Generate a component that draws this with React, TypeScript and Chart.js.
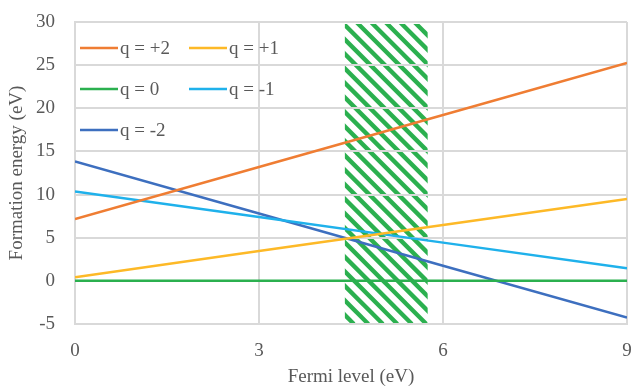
import React, { useEffect, useRef } from "react";
import { Chart, registerables } from "chart.js";

Chart.register(...registerables);

// ---- data ----
const fermiLevels = [0, 3, 6, 9];
const seriesLabels = ["q = +2", "q = +1", "q = 0", "q = -1", "q = -2"];
const qPlus2 = [7.16, 13.2, 19.22, 25.25];
const qPlus1 = [0.43, 3.45, 6.47, 9.48];
const qZero = [0, 0, 0, 0];
const qMinus1 = [10.36, 7.4, 4.43, 1.47];
const qMinus2 = [13.84, 7.8, 1.75, -4.26];
const seriesValues = [qPlus2, qPlus1, qZero, qMinus1, qMinus2];
const seriesColors = ["#EF7D33", "#FDB927", "#2BB04F", "#1FB1EB", "#3D6FBF"];
const hatchRange = [4.4, 5.75];
const xAxisRange = [0, 9, 3];
const yAxisRange = [-5, 30, 5];
const xTitle = "Fermi level (eV)";
const yTitle = "Formation energy (eV)";

const FONT = "'Liberation Serif', 'Times New Roman', serif";
const TEXT = "#595959";
const GRID = "#D9D9D9";
const FS = 19;

const hatchPlugin = {
  id: "hatch",
  beforeDraw(chart: any) {
    const { ctx, chartArea, scales } = chart;
    const x0 = scales.x.getPixelForValue(hatchRange[0]);
    const x1 = scales.x.getPixelForValue(hatchRange[1]);
    const top = chartArea.top;
    const bottom = chartArea.bottom;
    ctx.save();
    ctx.beginPath();
    ctx.rect(x0, top + 2, x1 - x0, bottom - top - 2);
    ctx.clip();
    ctx.strokeStyle = "#2BB04F";
    ctx.lineWidth = 4.3;
    const h = bottom - top;
    for (let s = x0 - h - 20; s < x1 + 20; s += 14.5) {
      ctx.beginPath();
      ctx.moveTo(s, top);
      ctx.lineTo(s + h, bottom);
      ctx.stroke();
    }
    ctx.restore();
  },
};

const legendPlugin = {
  id: "innerLegend",
  afterDatasetsDraw(chart: any) {
    const { ctx, chartArea } = chart;
    const cols = [chartArea.left + 5, chartArea.left + 114];
    const rows = [chartArea.top + 26, chartArea.top + 67, chartArea.top + 108];
    ctx.save();
    ctx.font = `${FS}px ${FONT}`;
    ctx.textBaseline = "middle";
    ctx.textAlign = "left";
    seriesLabels.forEach((label, i) => {
      const cx = cols[i % 2];
      const cy = rows[Math.floor(i / 2)];
      ctx.strokeStyle = seriesColors[i];
      ctx.lineWidth = 2.5;
      ctx.beginPath();
      ctx.moveTo(cx, cy);
      ctx.lineTo(cx + 38, cy);
      ctx.stroke();
      ctx.fillStyle = TEXT;
      ctx.fillText(label, cx + 40, cy + 1);
    });
    ctx.restore();
  },
};

export default function App() {
  const ref = useRef<HTMLCanvasElement | null>(null);

  useEffect(() => {
    document.body.style.margin = "0";
    const canvas = ref.current!;
    const chart = new Chart(canvas, {
      type: "line",
      data: {
        datasets: seriesLabels.map((label, i) => ({
          label,
          data: fermiLevels.map((x, j) => ({ x, y: seriesValues[i][j] })),
          borderColor: seriesColors[i],
          backgroundColor: seriesColors[i],
          borderWidth: 2.5,
          pointRadius: 0,
          tension: 0,
          fill: false,
        })),
      },
      options: {
        responsive: false,
        animation: false,
        layout: { padding: { left: 0, right: 4, top: 22, bottom: 0 } },
        plugins: {
          legend: { display: false },
          tooltip: { enabled: false },
        },
        scales: {
          x: {
            type: "linear",
            min: xAxisRange[0],
            max: xAxisRange[1],
            ticks: {
              stepSize: xAxisRange[2],
              color: TEXT,
              font: { family: FONT, size: FS },
              padding: 16,
            },
            grid: { color: GRID, lineWidth: 2, drawTicks: false },
            border: { color: GRID, width: 2 },
            title: {
              display: true,
              text: xTitle,
              color: TEXT,
              font: { family: FONT, size: FS },
              padding: { top: 0, bottom: 0 },
            },
            afterFit(scale: any) {
              scale.height = 64;
              scale.paddingLeft = 0;
              scale.paddingRight = 0;
            },
          },
          y: {
            type: "linear",
            min: yAxisRange[0],
            max: yAxisRange[1],
            ticks: {
              stepSize: yAxisRange[2],
              color: TEXT,
              font: { family: FONT, size: FS },
              padding: 20,
            },
            grid: { color: GRID, lineWidth: 2, drawTicks: false },
            border: { color: GRID, width: 2 },
            title: {
              display: true,
              text: yTitle,
              color: TEXT,
              font: { family: FONT, size: FS },
              padding: { top: 6, bottom: 0 },
            },
            afterFit(scale: any) {
              scale.width = 75;
              scale.paddingTop = 0;
              scale.paddingBottom = 0;
            },
          },
        },
      },
      plugins: [hatchPlugin, legendPlugin],
    } as any);
    return () => chart.destroy();
  }, []);

  return (
    <div style={{ position: "absolute", left: 0, top: 0, width: 631, height: 388, background: "#fff" }}>
      <canvas ref={ref} width={631} height={388} />
    </div>
  );
}
